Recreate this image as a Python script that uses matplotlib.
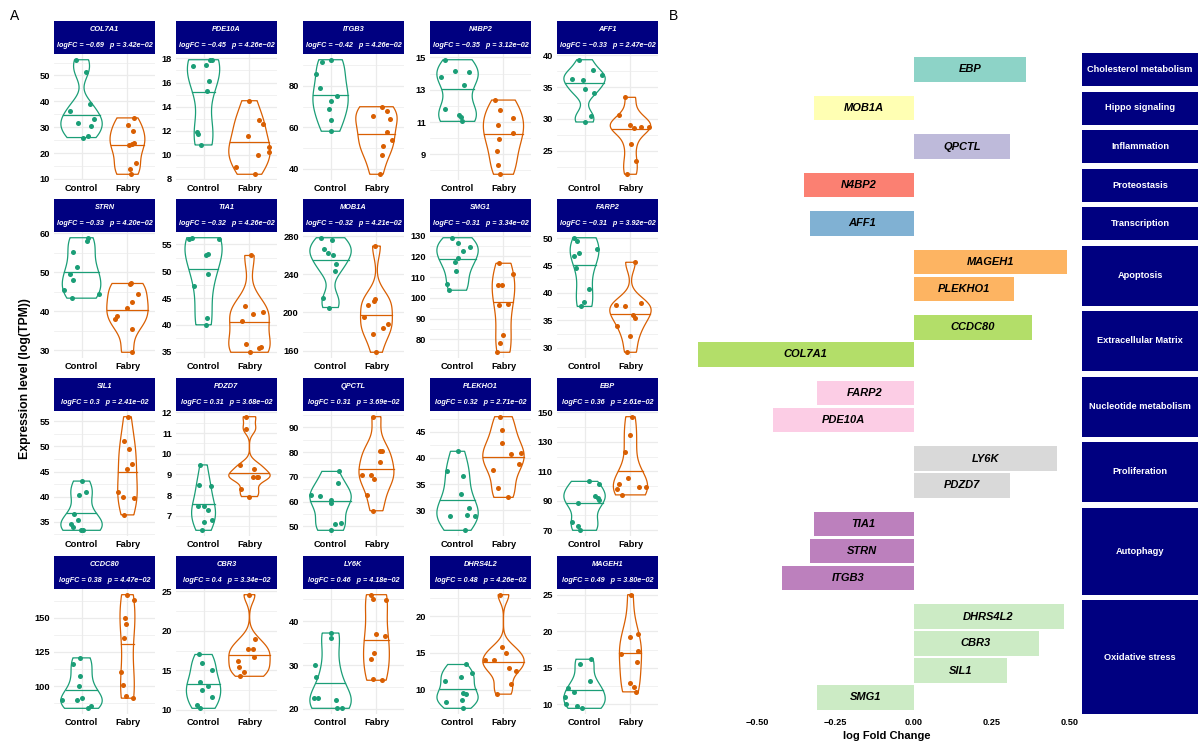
import numpy as np
import matplotlib
matplotlib.use('Agg')
import matplotlib.pyplot as plt

plt.rcParams['font.family'] = ['Liberation Sans', 'DejaVu Sans']

W, H = 1198, 747

genes = ['COL7A1', 'PDE10A', 'ITGB3', 'N4BP2', 'AFF1',
         'STRN', 'TIA1', 'MOB1A', 'SMG1', 'FARP2',
         'SIL1', 'PDZD7', 'QPCTL', 'PLEKHO1', 'EBP',
         'CCDC80', 'CBR3', 'LY6K', 'DHRS4L2', 'MAGEH1']
logfc = [-0.69, -0.45, -0.42, -0.35, -0.33, -0.33, -0.32, -0.32, -0.31, -0.31,
         0.3, 0.31, 0.31, 0.32, 0.36, 0.38, 0.4, 0.46, 0.48, 0.49]
pvals = [3.42e-02, 4.26e-02, 4.26e-02, 3.12e-02, 2.47e-02, 4.20e-02, 4.26e-02, 4.21e-02, 3.34e-02, 3.92e-02,
         2.41e-02, 3.68e-02, 3.69e-02, 2.71e-02, 2.61e-02, 4.47e-02, 3.34e-02, 4.18e-02, 4.26e-02, 3.80e-02]
pathway = ['Extracellular Matrix', 'Nucleotide metabolism', 'Autophagy', 'Proteostasis', 'Transcription',
           'Autophagy', 'Autophagy', 'Hippo signaling', 'Oxidative stress', 'Nucleotide metabolism',
           'Oxidative stress', 'Proliferation', 'Inflammation', 'Apoptosis', 'Cholesterol metabolism',
           'Extracellular Matrix', 'Oxidative stress', 'Proliferation', 'Oxidative stress', 'Apoptosis']
pathway_order = ['Cholesterol metabolism', 'Hippo signaling', 'Inflammation', 'Proteostasis',
                 'Transcription', 'Apoptosis', 'Extracellular Matrix', 'Nucleotide metabolism',
                 'Proliferation', 'Autophagy', 'Oxidative stress']

groups = ['Control', 'Fabry']

ctrl_expr = [
    [56.1, 51.3, 38.9, 36.1, 33.0, 31.5, 30.6, 26.6, 26.0],
    [17.34, 17.42, 17.89, 17.89, 16.09, 15.29, 11.92, 11.73, 10.82],
    [85.6, 91.2, 92.5, 78.9, 72.8, 68.8, 75.2, 63.5, 58.1],
    [14.86, 13.78, 14.18, 14.09, 13.29, 11.82, 11.41, 11.29, 11.04],
    [39.27, 36.20, 36.15, 37.60, 36.82, 34.74, 34.11, 30.52, 29.53],
    [58.80, 57.95, 55.23, 51.33, 49.46, 48.01, 45.55, 44.53, 43.34],
    [56.06, 56.25, 56.06, 53.06, 53.25, 49.5, 47.19, 41.25, 40.0],
    [278.3, 275.5, 266.1, 262.6, 260.5, 250.4, 243.1, 215.3, 205.2],
    [129.0, 126.5, 122.8, 124.6, 119.4, 117.3, 113.2, 106.8, 103.7],
    [50.06, 49.5, 47.33, 46.73, 48.06, 44.55, 40.67, 38.24, 37.52],
    [43.1, 40.39, 40.95, 36.57, 35.33, 34.48, 34.02, 33.37, 33.3],
    [9.46, 8.47, 8.44, 7.48, 7.48, 7.30, 6.78, 6.68, 6.30],
    [72.2, 67.55, 62.63, 62.37, 60.8, 59.6, 51.2, 50.8, 48.4],
    [41.28, 37.44, 36.55, 33.09, 30.38, 29.18, 28.99, 28.93, 26.16],
    [103.1, 101.3, 93.4, 92.1, 90.7, 88.7, 75.6, 72.7, 69.8],
    [120.7, 116.3, 107.5, 100.0, 91.6, 89.9, 89.9, 83.9, 85.6],
    [17.0, 15.92, 15.08, 13.58, 13.0, 12.58, 11.67, 10.63, 10.21],
    [37.29, 36.09, 30.0, 27.29, 22.41, 22.41, 22.03, 20.15, 20.30],
    [13.44, 11.16, 11.70, 12.28, 9.51, 9.46, 8.66, 8.39, 7.50],
    [16.17, 15.5, 13.15, 12.21, 11.71, 10.99, 10.0, 9.77, 9.46],
]
fabry_expr = [
    [33.6, 30.9, 28.6, 23.9, 23.2, 23.6, 16.1, 13.7, 11.8],
    [14.49, 12.92, 12.56, 11.54, 10.62, 10.27, 9.99, 9.02, 8.39],
    [65.4, 69.9, 68.0, 64.2, 57.8, 53.9, 51.0, 46.9, 37.4],
    [12.36, 11.74, 11.25, 10.81, 9.95, 10.30, 9.19, 8.32, 7.76],
    [33.39, 30.63, 29.11, 28.65, 28.80, 28.80, 26.04, 23.39, 21.35],
    [47.1, 47.0, 44.3, 42.4, 40.9, 38.75, 37.9, 35.35, 29.5],
    [52.94, 43.44, 42.0, 42.31, 40.75, 36.38, 35.63, 35.81, 34.88],
    [269.6, 213.9, 212.2, 208.0, 195.5, 187.5, 183.3, 177.0, 158.3],
    [116.7, 111.6, 106.1, 106.3, 96.8, 97.3, 81.9, 78.2, 73.8],
    [45.58, 37.82, 37.52, 38.12, 36.0, 35.45, 33.94, 32.06, 29.15],
    [55.92, 51.01, 49.44, 46.44, 45.46, 40.88, 40.03, 39.77, 36.37],
    [11.79, 11.20, 9.46, 9.25, 8.87, 8.90, 8.88, 8.29, 7.93],
    [94.3, 80.6, 80.6, 75.9, 70.7, 70.7, 69.0, 62.6, 56.3],
    [47.9, 45.37, 42.92, 40.71, 41.03, 38.82, 37.69, 34.35, 32.46],
    [147.1, 134.9, 123.2, 105.6, 101.5, 97.7, 93.9, 99.3, 99.1],
    [166.8, 163.2, 149.8, 145.7, 135.3, 110.6, 101.2, 92.8, 91.3],
    [24.54, 18.92, 17.67, 17.63, 16.71, 16.13, 15.38, 14.79, 14.25],
    [46.02, 44.96, 44.81, 37.07, 36.62, 32.63, 31.28, 26.84, 26.54],
    [22.90, 15.76, 14.96, 14.02, 14.02, 12.95, 12.59, 10.76, 9.42],
    [25.0, 19.64, 19.28, 17.25, 16.94, 15.77, 12.97, 12.43, 11.71],
]
# horizontal jitter of the points
ctrl_jitter = [
    [-0.13, 0.10, 0.18, -0.25, 0.28, -0.07, 0.21, 0.13, 0.04],
    [-0.23, 0.06, 0.14, 0.19, 0.12, 0.08, -0.15, -0.12, -0.06],
    [-0.32, -0.18, 0.01, -0.22, 0.01, -0.04, 0.15, 0.01, 0.0],
    [-0.28, -0.37, -0.06, 0.24, 0.15, -0.28, 0.03, 0.07, 0.10],
    [-0.12, -0.27, -0.03, 0.18, 0.39, 0.01, 0.20, 0.14, 0.02],
    [0.15, 0.12, -0.19, -0.09, -0.25, -0.18, -0.39, 0.37, -0.20],
    [-0.31, -0.26, 0.34, 0.06, 0.09, 0.10, -0.20, 0.07, 0.06],
    [-0.20, 0.03, -0.15, -0.06, 0.06, 0.11, 0.10, -0.16, -0.04],
    [-0.12, 0.0, 0.11, 0.28, 0.0, -0.05, -0.04, -0.22, -0.18],
    [-0.24, -0.16, -0.13, -0.22, 0.28, -0.19, 0.09, -0.02, -0.07],
    [0.0, -0.05, 0.09, -0.17, -0.07, -0.22, -0.18, -0.02, 0.04],
    [-0.07, -0.09, 0.16, -0.12, 0.01, 0.10, 0.18, 0.02, -0.03],
    [0.19, 0.17, -0.43, -0.23, 0.02, 0.01, 0.23, 0.09, 0.0],
    [0.0, -0.22, 0.11, 0.07, 0.24, 0.21, 0.38, -0.16, 0.16],
    [0.09, 0.31, 0.23, 0.29, 0.32, -0.15, -0.28, -0.14, -0.09],
    [-0.04, -0.18, -0.04, -0.05, 0.01, -0.42, -0.10, 0.14, 0.21],
    [-0.09, -0.04, 0.18, -0.08, 0.09, -0.04, 0.18, -0.14, -0.08],
    [0.0, 0.0, -0.34, -0.31, -0.36, -0.28, 0.12, 0.15, 0.26],
    [0.18, -0.27, 0.07, 0.32, 0.12, 0.18, 0.09, -0.26, 0.11],
    [0.14, -0.09, 0.12, -0.37, -0.23, -0.43, -0.40, -0.17, -0.06],
]
fabry_jitter = [
    [0.15, 0.02, 0.12, 0.15, 0.04, 0.09, 0.18, 0.05, 0.07],
    [0.0, 0.21, 0.30, -0.03, 0.42, 0.42, 0.19, -0.30, 0.13],
    [-0.07, 0.13, 0.23, 0.30, 0.24, 0.34, 0.15, 0.13, 0.08],
    [-0.19, -0.08, 0.20, -0.12, -0.10, 0.21, -0.15, -0.12, -0.07],
    [-0.11, -0.24, 0.0, 0.07, 0.23, 0.40, 0.01, 0.12, -0.07],
    [0.07, 0.05, 0.23, 0.10, 0.0, -0.23, -0.28, 0.09, 0.09],
    [0.03, -0.09, 0.07, 0.30, -0.17, -0.08, 0.20, 0.26, 0.02],
    [-0.04, -0.04, -0.06, -0.19, -0.28, 0.25, 0.15, -0.08, -0.02],
    [-0.10, 0.21, -0.12, -0.04, -0.09, 0.10, -0.01, -0.07, -0.13],
    [0.09, -0.31, -0.12, 0.23, 0.06, 0.09, -0.29, 0.0, -0.07],
    [0.02, -0.08, 0.04, 0.10, -0.01, -0.20, -0.09, 0.15, -0.08],
    [-0.07, -0.07, -0.20, 0.10, 0.08, 0.16, 0.19, -0.19, 0.0],
    [-0.07, 0.07, 0.11, 0.07, -0.31, -0.11, -0.05, -0.20, -0.08],
    [-0.08, -0.04, -0.03, 0.17, 0.38, 0.33, -0.22, -0.11, 0.09],
    [0.04, -0.02, -0.12, -0.05, -0.24, -0.29, -0.18, 0.19, 0.33],
    [-0.02, 0.15, -0.06, -0.04, -0.08, -0.13, -0.10, -0.04, 0.13],
    [0.0, 0.11, -0.03, 0.07, 0.09, -0.24, -0.23, -0.11, -0.20],
    [-0.12, -0.07, 0.20, 0.0, 0.18, -0.06, -0.11, -0.07, 0.13],
    [-0.07, -0.03, 0.06, -0.41, -0.21, 0.11, 0.27, 0.16, -0.14],
    [0.02, 0.17, -0.01, 0.17, -0.21, 0.15, -0.01, 0.07, 0.11],
]
y_breaks = [
    [10, 20, 30, 40, 50], [8, 10, 12, 14, 16, 18], [40, 60, 80], [9, 11, 13, 15], [25, 30, 35, 40],
    [30, 40, 50, 60], [35, 40, 45, 50, 55], [160, 200, 240, 280], [80, 90, 100, 110, 120, 130],
    [30, 35, 40, 45, 50],
    [35, 40, 45, 50, 55], [7, 8, 9, 10, 11, 12], [50, 60, 70, 80, 90], [30, 35, 40, 45],
    [70, 90, 110, 130, 150],
    [100, 125, 150], [10, 15, 20, 25], [20, 30, 40], [10, 15, 20], [10, 15, 20, 25],
]
fc_ticks = [-0.5, -0.25, 0.0, 0.25, 0.5]
fc_labels = ['\u22120.50', '\u22120.25', '0.00', '0.25', '0.50']

group_colors = ['#1B9E77', '#D95F02']
set3 = ['#8DD3C7', '#FFFFB3', '#BEBADA', '#FB8072', '#80B1D3', '#FDB462',
        '#B3DE69', '#FCCDE5', '#D9D9D9', '#BC80BD', '#CCEBC5']
navy = '#000080'
grid_col = '#EBEBEB'


def rect(x0, y0, x1, y1):
    return [x0 / W, 1 - y1 / H, (x1 - x0) / W, (y1 - y0) / H]


def kde(vals):
    v = np.asarray(vals, dtype=float)
    n = len(v)
    iqr = np.subtract(*np.percentile(v, [75, 25]))
    bw = 0.9 * min(v.std(ddof=1), iqr / 1.34) * n ** -0.2
    grid = np.linspace(v.min(), v.max(), 512)
    dens = np.exp(-0.5 * ((grid[:, None] - v[None, :]) / bw) ** 2).sum(1) / (n * bw * np.sqrt(2 * np.pi))
    return grid, dens


def minus(s):
    return s.replace('-', '\u2212')


fig = plt.figure(figsize=(W / 100, H / 100), dpi=100)

# ---- panel A: violins ----
col_x = [54, 176, 303, 430, 557]
row_y = [(21, 54, 180), (199, 232, 358), (378, 411, 536), (556, 589, 714)]

for i, g in enumerate(genes):
    r, c = divmod(i, 5)
    x0, x1 = col_x[c], col_x[c] + 101
    st, pt, pb = row_y[r]
    ax = fig.add_axes(rect(x0, pt, x1, pb))

    sets = [ctrl_expr[i], fabry_expr[i]]
    jits = [ctrl_jitter[i], fabry_jitter[i]]
    kdes = [kde(s) for s in sets]
    maxd = max(d.max() for _, d in kdes)
    for k, ((grid, dens), vals, jit) in enumerate(zip(kdes, sets, jits)):
        xc = k + 1
        half = 0.45 * dens / maxd
        xs = np.concatenate([xc - half, (xc + half)[::-1]])
        ys = np.concatenate([grid, grid[::-1]])
        ax.fill(xs, ys, facecolor='none', edgecolor=group_colors[k], lw=0.9, zorder=2)
        ecdf = np.cumsum(dens) / dens.sum()
        med = np.interp(0.5, ecdf, grid)
        hm = np.interp(med, grid, half)
        ax.plot([xc - hm, xc + hm], [med, med], color=group_colors[k], lw=0.9, zorder=2)
        ax.scatter(xc + np.asarray(jit), vals, s=13, color=group_colors[k], linewidths=0, zorder=3)

    allv = np.concatenate(sets)
    lo, hi = allv.min(), allv.max()
    pad = 0.05 * (hi - lo)
    ax.set_ylim(lo - pad, hi + pad)
    ax.set_xlim(0.4, 2.6)
    br = y_breaks[i]
    step = br[1] - br[0]
    minors = [m for m in np.arange(br[0] - step / 2, br[-1] + step, step) if lo - pad <= m <= hi + pad]
    ax.set_yticks(br)
    ax.set_yticks(minors, minor=True)
    ax.set_xticks([1, 2])
    ax.set_xticklabels(groups)
    ax.grid(which='major', color=grid_col, lw=0.9)
    ax.grid(which='minor', axis='y', color=grid_col, lw=0.5)
    ax.set_axisbelow(True)
    for sp in ax.spines.values():
        sp.set_visible(False)
    ax.tick_params(which='both', length=0, labelsize=6.7, pad=3)
    for lab in ax.get_xticklabels() + ax.get_yticklabels():
        lab.set_fontweight('bold')

    sx = fig.add_axes(rect(x0, st, x1, pt))
    sx.set_facecolor(navy)
    sx.set_xticks([])
    sx.set_yticks([])
    for sp in sx.spines.values():
        sp.set_visible(False)
    sx.text(0.5, 0.74, g, color='white', fontsize=5.3, fontstyle='italic', fontweight='bold',
            ha='center', va='center', transform=sx.transAxes)
    stats = minus('logFC = %g   p = %.2e' % (logfc[i], pvals[i]))
    sx.text(0.5, 0.26, stats, color='white', fontsize=5.2, fontstyle='italic', fontweight='bold',
            ha='center', va='center', transform=sx.transAxes)

fig.text(25 / W, 1 - 379 / H, 'Expression level (log(TPM))', rotation=90, fontsize=8.8,
         fontweight='bold', ha='center', va='center')

# ---- panel B: log fold change bars by pathway ----
top = 53
unit = 27
for k, pw in enumerate(pathway_order):
    members = sorted([i for i in range(len(genes)) if pathway[i] == pw], key=lambda i: -logfc[i])
    n = len(members)
    h = n * unit + 6
    ax = fig.add_axes(rect(698, top, 1076, top + h))
    ys = np.arange(n)
    vals = [logfc[i] for i in members]
    ax.barh(ys, vals, height=0.92, color=set3[k])
    for y, i in zip(ys, members):
        ax.text(logfc[i] / 2, y, genes[i], fontsize=8, fontstyle='italic', fontweight='bold',
                ha='center', va='center', color='black')
    ax.set_ylim(n - 0.5 + 3 / unit, -0.5 - 3 / unit)
    ax.set_xlim(-0.69, 0.52)
    ax.set_yticks([])
    for sp in ax.spines.values():
        sp.set_visible(False)
    if k == len(pathway_order) - 1:
        ax.set_xticks(fc_ticks)
        ax.set_xticklabels(fc_labels)
        ax.tick_params(length=0, labelsize=6.6, pad=3)
        for lab in ax.get_xticklabels():
            lab.set_fontweight('bold')
    else:
        ax.set_xticks([])

    sx = fig.add_axes(rect(1082, top, 1198, top + h))
    sx.set_facecolor(navy)
    sx.set_xticks([])
    sx.set_yticks([])
    for sp in sx.spines.values():
        sp.set_visible(False)
    sx.text(0.5, 0.5, pw, color='white', fontsize=6.7, fontweight='bold',
            ha='center', va='center', transform=sx.transAxes)
    top += h + 5.5

fig.text(887 / W, 1 - 736 / H, 'log Fold Change', fontsize=8, fontweight='bold', ha='center', va='center')

fig.text(15 / W, 1 - 16 / H, 'A', fontsize=10, ha='center', va='center')
fig.text(673 / W, 1 - 16 / H, 'B', fontsize=10, ha='center', va='center')

fig.savefig('out.png', dpi=100)
